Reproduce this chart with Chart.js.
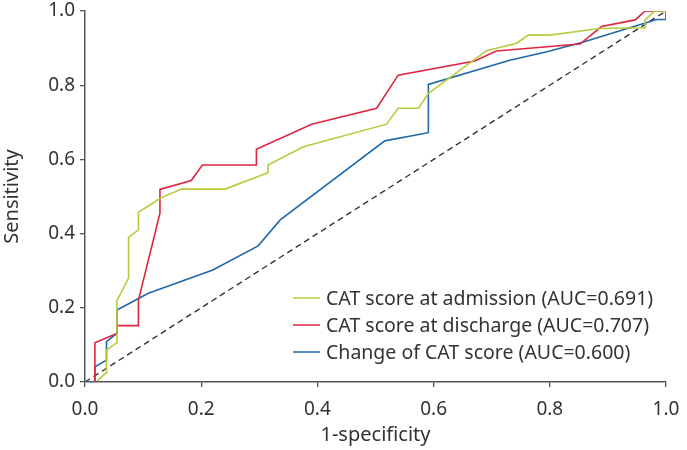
<!DOCTYPE html>
<html>
<head>
<meta charset="utf-8">
<script src="https://cdn.jsdelivr.net/npm/chart.js@4/dist/chart.umd.min.js"></script>
<style>
html,body{margin:0;padding:0;background:#fff;}
#wrap{width:687px;height:450px;position:relative;}
</style>
</head>
<body>
<div id="wrap"><canvas id="c"></canvas></div>
<script>
const seriesLabels = [
  "CAT score at admission (AUC=0.691)",
  "CAT score at discharge (AUC=0.707)",
  "Change of CAT score (AUC=0.600)"
];
const seriesColors = ["#b5cb3c", "#de2540", "#1f68aa"];

const admissionX = [0.021,0.037,0.037,0.055,0.055,0.075,0.075,0.092,0.092,0.112,0.129,0.166,0.241,0.315,0.315,0.376,0.519,0.539,0.574,0.591,0.691,0.743,0.763,0.800,0.886,0.964,0.964,0.981,1.000];
const admissionY = [0.003,0.025,0.086,0.106,0.219,0.280,0.390,0.410,0.458,0.477,0.495,0.520,0.520,0.564,0.585,0.634,0.695,0.738,0.738,0.778,0.893,0.913,0.935,0.935,0.953,0.955,0.976,1.000,1.000];

const dischargeX = [0.017,0.017,0.055,0.055,0.092,0.092,0.129,0.129,0.183,0.202,0.295,0.295,0.390,0.502,0.539,0.671,0.708,0.852,0.889,0.947,0.964,1.000];
const dischargeY = [0.000,0.106,0.131,0.152,0.152,0.221,0.455,0.519,0.543,0.585,0.585,0.627,0.695,0.738,0.827,0.865,0.892,0.911,0.958,0.976,1.000,1.000];

const changeX = [0.000,0.017,0.017,0.037,0.037,0.055,0.055,0.109,0.220,0.298,0.336,0.516,0.591,0.591,0.731,0.795,0.855,0.984,1.000,1.000];
const changeY = [0.000,0.000,0.041,0.059,0.109,0.131,0.194,0.239,0.302,0.367,0.437,0.650,0.672,0.802,0.867,0.890,0.915,0.977,0.977,1.000];

const refX = [0, 1];
const refY = [0, 1];

const tickValues = [0, 0.2, 0.4, 0.6, 0.8, 1.0];
const xTitle = "1-specificity";
const yTitle = "Sensitivity";

const FONT = "'Noto Sans', sans-serif";
const toPts = (xs, ys) => xs.map((x, i) => ({x: x, y: ys[i]}));

const datasets = [
  {label: seriesLabels[0], data: toPts(admissionX, admissionY), borderColor: seriesColors[0]},
  {label: seriesLabels[1], data: toPts(dischargeX, dischargeY), borderColor: seriesColors[1]},
  {label: seriesLabels[2], data: toPts(changeX, changeY), borderColor: seriesColors[2]},
  {label: "ref", data: toPts(refX, refY), borderColor: "#333333", borderDash: [6, 4], borderWidth: 1.4}
].map(d => Object.assign({type: 'line', showLine: true, pointRadius: 0, borderWidth: 1.6, tension: 0, fill: false}, d));

const legendPlugin = {
  id: 'customLegend',
  afterDatasetsDraw(chart) {
    const ctx = chart.ctx;
    const x0 = 293, x1 = 320, tx = 326;
    const rows = [298, 325, 352];
    ctx.save();
    ctx.font = "19.5px " + FONT;
    ctx.textBaseline = 'middle';
    ctx.fillStyle = '#333';
    for (let i = 0; i < 3; i++) {
      ctx.strokeStyle = seriesColors[i];
      ctx.lineWidth = 1.5;
      ctx.beginPath();
      ctx.moveTo(x0, rows[i]);
      ctx.lineTo(x1, rows[i]);
      ctx.stroke();
      ctx.fillText(seriesLabels[i], tx, rows[i] + 1);
    }
    ctx.restore();
  }
};

const axisCommon = {
  type: 'linear',
  min: 0, max: 1,
  afterBuildTicks: (s) => { s.ticks = tickValues.map(v => ({value: v})); },
  grid: {drawOnChartArea: false, drawTicks: true, tickLength: 5, color: '#555', lineWidth: 1.3},
  border: {display: true, color: '#555', width: 1.5}
};
const tickFont = {family: FONT, size: 19};
const fmt = v => Number(v).toFixed(1);

new Chart(document.getElementById('c'), {
  type: 'line',
  data: {datasets},
  options: {
    responsive: true,
    maintainAspectRatio: false,
    animation: false,
    layout: {padding: {top: 11, right: 21, left: 0, bottom: 0}},
    plugins: {legend: {display: false}, tooltip: {enabled: false}},
    scales: {
      x: Object.assign({}, axisCommon, {
        ticks: {color: '#333', font: tickFont, padding: 11, callback: fmt},
        title: {display: true, text: xTitle, color: '#333', font: {family: FONT, size: 20}, padding: {top: 0, bottom: 3}},
        afterFit: (s) => { s.height = 68; s.paddingLeft = 0; s.paddingRight = 0; }
      }),
      y: Object.assign({}, axisCommon, {
        ticks: {color: '#333', font: tickFont, padding: 5, callback: fmt},
        title: {display: true, text: yTitle, color: '#333', font: {family: FONT, size: 20}, padding: {top: 0, bottom: 4}},
        afterFit: (s) => { s.width = 85; s.paddingTop = 0; s.paddingBottom = 0; }
      })
    }
  },
  plugins: [legendPlugin]
});
</script>
</body>
</html>
